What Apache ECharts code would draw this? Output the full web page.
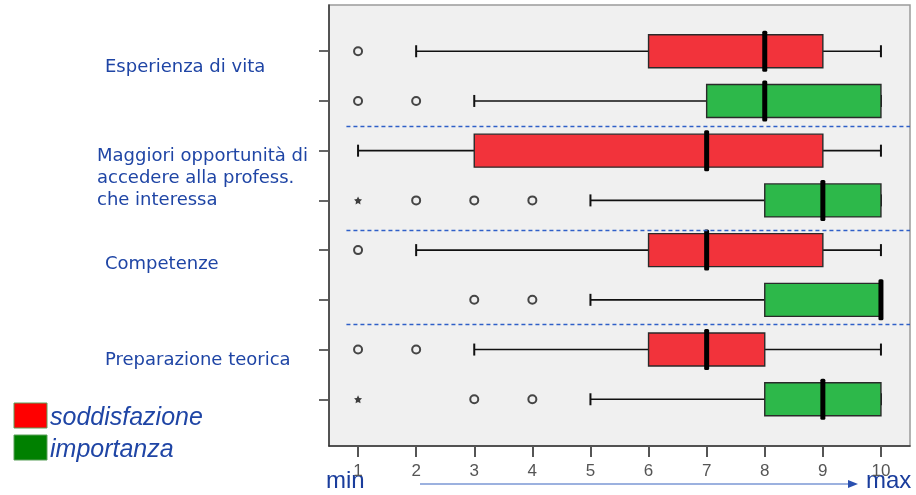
<!DOCTYPE html>
<html>
<head>
<meta charset="utf-8">
<script src="https://cdn.jsdelivr.net/npm/echarts@6/dist/echarts.min.js"></script>
<style>
  html, body { margin: 0; padding: 0; background: #ffffff; }
  #chart { width: 916px; height: 495px; }
</style>
</head>
<body>
<div id="chart"></div>
<script>
// Items (each has a "soddisfazione" row followed by an "importanza" row)
const groups = [
  'Esperienza di vita',
  'Maggiori opportunità di\naccedere alla profess.\nche interessa',
  'Competenze',
  'Preparazione teorica'
];

// Box statistics per item: [lower whisker, Q1, median, Q3, upper whisker]
const soddisfazione = [
  [2, 6, 8, 9, 10],
  [1, 3, 7, 9, 10],
  [2, 6, 7, 9, 10],
  [3, 6, 7, 8, 10]
];
const importanza = [
  [3, 7, 8, 10, 10],
  [5, 8, 9, 10, 10],
  [5, 8, 10, 10, 10],
  [5, 8, 9, 10, 10]
];

// Outliers (circles) and extreme values (stars) per item
const outSoddisfazione = [[1], [], [1], [1, 2]];
const outImportanza = [[1, 2], [2, 3, 4], [3, 4], [3, 4]];
const extremeSoddisfazione = [[], [], [], []];
const extremeImportanza = [[], [1], [], [1]];

// Scale ticks
const xTicks = [1, 2, 3, 4, 5, 6, 7, 8, 9, 10];
const rowTicks = [1, 2, 3, 4, 5, 6, 7, 8];
// Dashed separators between items (in row units)
const separators = [2.5, 4.6, 6.5];

const RED = '#f2333b';
const GREEN = '#2db84a';
const BLUE_TEXT = '#1f45a5';

// Build box rows: row position, stats, fill
const boxRows = [];
const outlierPts = [];
const extremePts = [];
groups.forEach((g, i) => {
  const rS = 2 * i + 1, rI = 2 * i + 2;
  boxRows.push([rS].concat(soddisfazione[i], [0]));
  boxRows.push([rI].concat(importanza[i], [1]));
  outSoddisfazione[i].forEach(v => outlierPts.push([v, rS]));
  outImportanza[i].forEach(v => outlierPts.push([v, rI]));
  extremeSoddisfazione[i].forEach(v => extremePts.push([v, rS]));
  extremeImportanza[i].forEach(v => extremePts.push([v, rI]));
});

function renderBox(params, api) {
  const row = api.value(0);
  const lo = api.value(1), q1 = api.value(2), med = api.value(3), q3 = api.value(4), hi = api.value(5);
  const fill = api.value(6) === 0 ? RED : GREEN;
  const pLo = api.coord([lo, row]);
  const pQ1 = api.coord([q1, row]);
  const pMed = api.coord([med, row]);
  const pQ3 = api.coord([q3, row]);
  const pHi = api.coord([hi, row]);
  const y = pLo[1];
  const hb = 16.5;   // half box height
  const hc = 6;      // half whisker cap height
  const hm = 20.5;   // half median bar height
  const line = { stroke: '#111', lineWidth: 1.6 };
  const children = [
    { type: 'line', shape: { x1: pLo[0], y1: y, x2: pQ1[0], y2: y }, style: line },
    { type: 'line', shape: { x1: pQ3[0], y1: y, x2: pHi[0], y2: y }, style: line },
    { type: 'line', shape: { x1: pLo[0], y1: y - hc, x2: pLo[0], y2: y + hc }, style: { stroke: '#111', lineWidth: 2 } },
    { type: 'line', shape: { x1: pHi[0], y1: y - hc, x2: pHi[0], y2: y + hc }, style: { stroke: '#111', lineWidth: 2 } },
    { type: 'rect', shape: { x: pQ1[0], y: y - hb, width: pQ3[0] - pQ1[0], height: 2 * hb },
      style: { fill: fill, stroke: '#2a2a2a', lineWidth: 1.4 } },
    { type: 'rect', shape: { x: pMed[0] - 2.5, y: y - hm, width: 5, height: 2 * hm, r: 1.5 },
      style: { fill: '#000' } }
  ];
  return { type: 'group', children: children };
}

const chart = echarts.init(document.getElementById('chart'), null, { renderer: 'canvas' });

const graphics = [];
// Item labels on the left
const labelPos = [
  { x: 105, y: 67 },
  { x: 97, y: 156 },
  { x: 105, y: 264 },
  { x: 105, y: 360 }
];
groups.forEach((g, i) => {
  graphics.push({
    type: 'text', left: labelPos[i].x, top: labelPos[i].y - 11,
    style: { text: g, fill: BLUE_TEXT, font: '18px "DejaVu Sans"', lineHeight: 22 }
  });
});
// Legend
graphics.push(
  { type: 'rect', shape: { x: 14, y: 403, width: 33, height: 25 }, style: { fill: '#ff0000', stroke: '#5aa05a', lineWidth: 1 } },
  { type: 'rect', shape: { x: 14, y: 435, width: 33, height: 25 }, style: { fill: '#008000', stroke: '#5aa05a', lineWidth: 1 } },
  { type: 'text', left: 50, top: 406, style: { text: 'soddisfazione', fill: BLUE_TEXT, font: 'italic 25px "Liberation Sans"' } },
  { type: 'text', left: 50, top: 438, style: { text: 'importanza', fill: BLUE_TEXT, font: 'italic 25px "Liberation Sans"' } }
);
// min / max with arrow
graphics.push(
  { type: 'text', left: 326, top: 469, style: { text: 'min', fill: '#1a3d9c', font: '24px "Liberation Sans"' } },
  { type: 'text', left: 866, top: 469, style: { text: 'max', fill: '#1a3d9c', font: '24px "Liberation Sans"' } },
  { type: 'line', shape: { x1: 420, y1: 484, x2: 850, y2: 484 }, style: { stroke: '#3a64c0', lineWidth: 1.2 } },
  { type: 'polygon', shape: { points: [[858, 484], [848, 480], [848, 488]] }, style: { fill: '#2a50b0' } }
);

chart.setOption({
  animation: false,
  backgroundColor: '#ffffff',
  grid: {
    left: 329, right: 6, top: 5, bottom: 49,
    show: true, backgroundColor: '#f0f0f0', borderColor: '#9a9a9a', borderWidth: 1.5
  },
  xAxis: {
    type: 'value', min: 0.5, max: 10.5,
    axisLine: { show: true, onZero: false, lineStyle: { color: '#333', width: 1.5 } },
    axisTick: { show: true, customValues: xTicks, length: 11, lineStyle: { color: '#555', width: 2 } },
    axisLabel: { customValues: xTicks, color: '#555', fontSize: 17, margin: 17, fontFamily: 'Liberation Sans' },
    splitLine: { show: false }
  },
  yAxis: {
    type: 'value', min: 0.07, max: 8.94, inverse: true,
    axisLine: { show: true, onZero: false, lineStyle: { color: '#333', width: 1.5 } },
    axisTick: { show: true, customValues: rowTicks, length: 10, lineStyle: { color: '#555', width: 1.8 } },
    axisLabel: { show: false },
    splitLine: { show: false }
  },
  graphic: graphics,
  series: [
    {
      type: 'custom',
      renderItem: renderBox,
      encode: { x: [1, 2, 3, 4, 5], y: 0 },
      data: boxRows,
      z: 3,
      markLine: {
        silent: true, symbol: 'none', label: { show: false },
        lineStyle: { color: '#2f5fc8', type: [4, 3], width: 1.3 },
        data: separators.map(s => [{ coord: [0.8, s] }, { coord: [10.5, s] }])
      }
    },
    {
      type: 'scatter',
      data: outlierPts,
      symbol: 'circle', symbolSize: 8,
      itemStyle: { color: '#f0f0f0', borderColor: '#1a1a1a', borderWidth: 2 },
      z: 4
    },
    {
      type: 'scatter',
      data: extremePts,
      symbol: 'path://M0,-10 L2.9,-4 L9.5,-3.1 L4.8,1.5 L5.9,8.1 L0,5 L-5.9,8.1 L-4.8,1.5 L-9.5,-3.1 L-2.9,-4 Z',
      symbolSize: 8,
      itemStyle: { color: '#111' },
      z: 4
    }
  ]
});
</script>
</body>
</html>
